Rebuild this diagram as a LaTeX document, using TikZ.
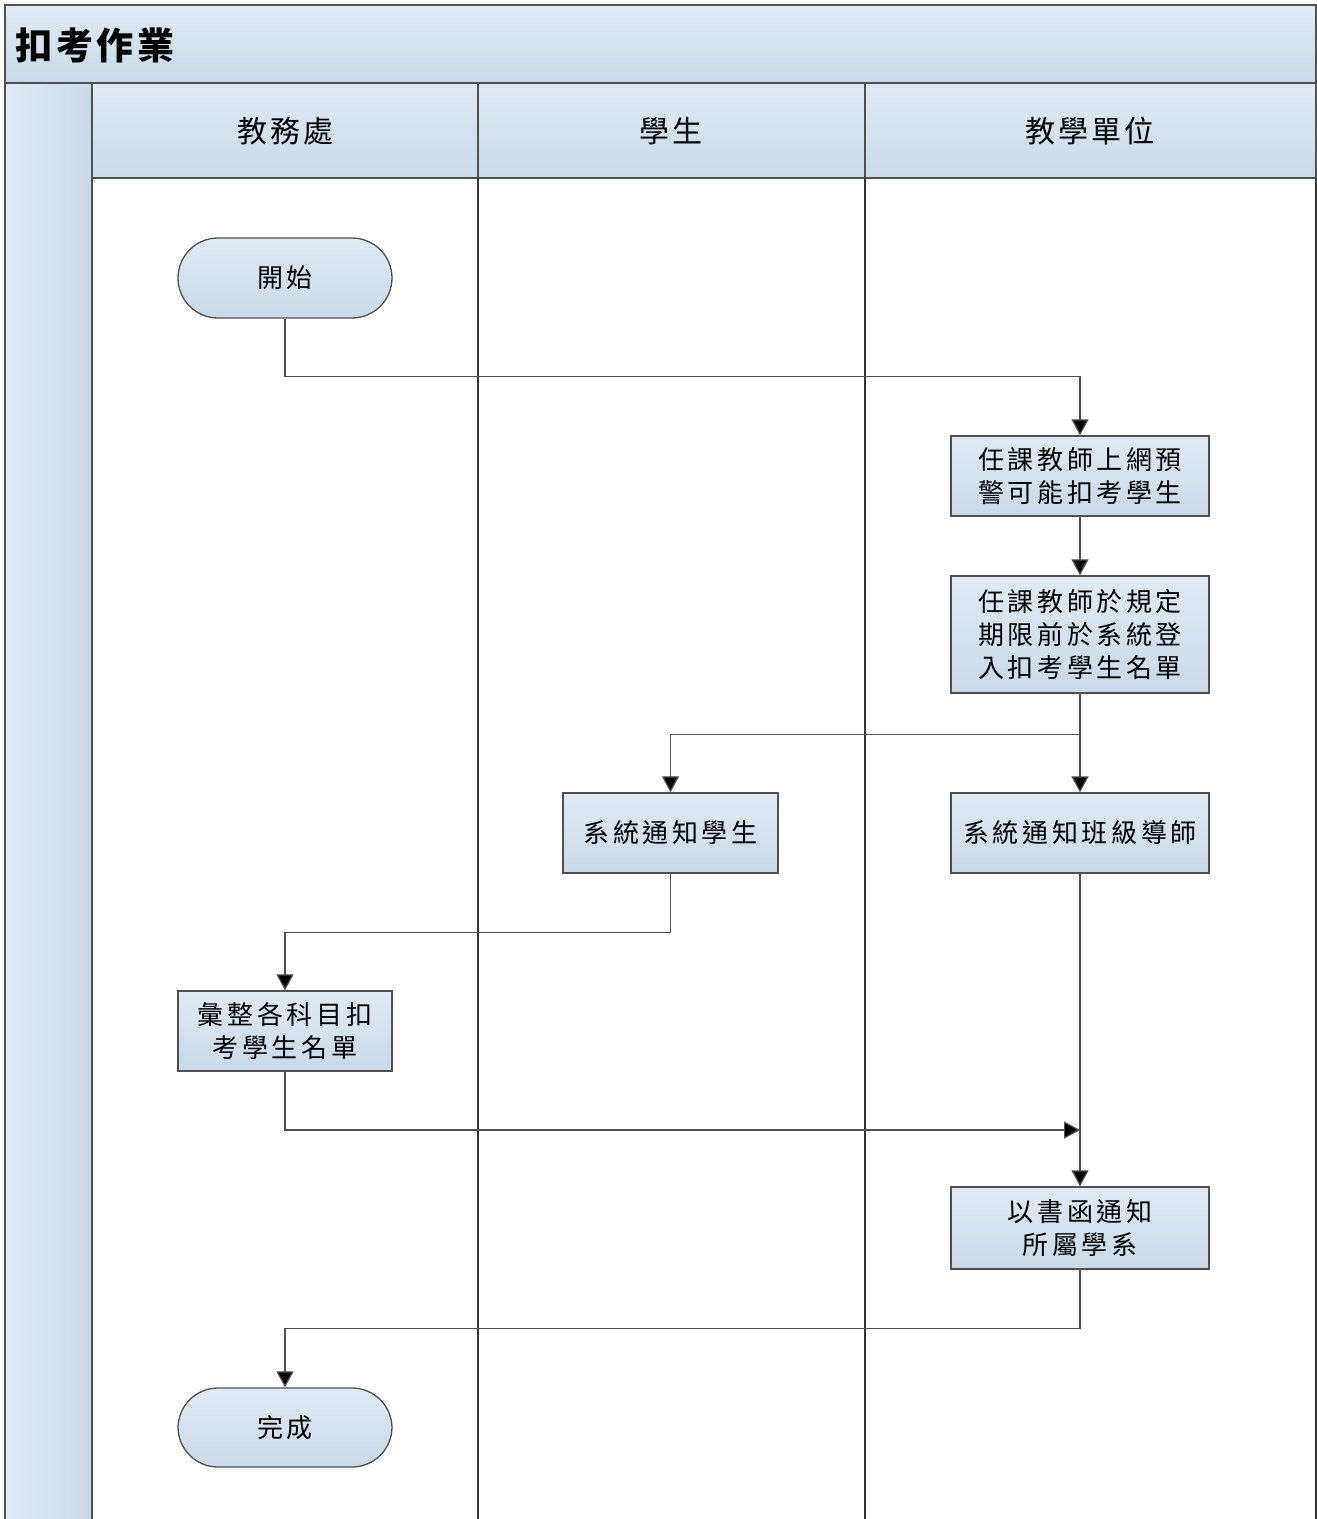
\documentclass[tikz,border=0pt]{standalone}
\usepackage{fontspec}
\newfontfamily\cjk[LetterSpace=14]{Noto Sans CJK TC}
\newfontfamily\cjkt[LetterSpace=10]{Noto Sans CJK TC}
\usetikzlibrary{arrows.meta}
\definecolor{gtop}{HTML}{E1EAF3}
\definecolor{gbot}{HTML}{C8D9E9}
\definecolor{edge}{HTML}{505050}
\tikzset{
  band/.style={draw=edge, line width=1.5pt, top color=gtop, bottom color=gbot},
  procbox/.style={draw=edge, line width=1.3pt, top color=gtop, bottom color=gbot,
    minimum width=258pt, minimum height=80pt, align=center, inner sep=0pt,
    font=\cjk\fontsize{26}{33}\selectfont},
  termbox/.style={procbox, rounded corners=40pt, minimum width=214pt},
  arr/.style={draw=edge, line width=1.2pt, -{Triangle[length=16pt,width=17pt,fill=black]}},
  conn/.style={draw=edge, line width=1.2pt},
  lanetext/.style={font=\cjkt\fontsize{30}{36}\selectfont},
}
\begin{document}
\begin{tikzpicture}[x=1pt,y=-1pt]
\useasboundingbox (0,0) rectangle (1317,1519);
% title band
\path[band] (5,5) rectangle (1316,83);
\node[anchor=west, font=\cjkt\bfseries\fontsize{37}{40}\selectfont] (title) at (12,45) {扣考作業};
% left band
\path[draw=edge, line width=1.5pt, left color=gtop, right color=gbot] (5,83) rectangle (92,1525);
% lane headers
\path[band] (92,83) rectangle (478,178);
\path[band] (478,83) rectangle (865,178);
\path[band] (865,83) rectangle (1316,178);
\node[lanetext] (l1) at (285,131) {教務處};
\node[lanetext] (l2) at (671,131) {學生};
\node[lanetext] (l3) at (1090,131) {教學單位};
% lane bodies
\draw[draw=black!80, line width=1.3pt] (478,178) -- (478,1525);
\draw[draw=black!80, line width=1.3pt] (865,178) -- (865,1525);
\draw[draw=black!80, line width=1.3pt] (1316,178) -- (1316,1525);
% nodes
\node[termbox] (start) at (285,278) {開始};
\node[procbox] (b1) at (1080,476) {任課教師上網預\\警可能扣考學生};
\node[procbox, minimum height=117pt] (b2) at (1080,634.5) {任課教師於規定\\期限前於系統登\\入扣考學生名單};
\node[procbox, minimum width=215pt] (b3) at (670.5,833) {系統通知學生};
\node[procbox] (b4) at (1080,833) {系統通知班級導師};
\node[procbox, minimum width=214pt] (b5) at (285,1031) {彙整各科目扣\\考學生名單};
\node[procbox, minimum height=82pt] (b6) at (1080,1228) {以書函通知\\所屬學系};
\node[termbox, minimum height=79pt] (end) at (285,1427.5) {完成};
% connectors
\draw[arr] (start.south) -- ++(0,58) -| (b1.north);
\draw[arr] (b1.south) -- (b2.north);
\draw[arr] (b2.south) -- ++(0,41) -| (b3.north);
\draw[arr] (b2.south) -- (b4.north);
\draw[arr] (b3.south) -- ++(0,59) -| (b5.north);
\coordinate (j) at (1080,1130);
\draw[arr] (b5.south) |- (j);
\draw[arr] (b4.south) -- (b6.north);
\draw[arr] (b6.south) -- ++(0,59) -| (end.north);
\end{tikzpicture}
\end{document}
